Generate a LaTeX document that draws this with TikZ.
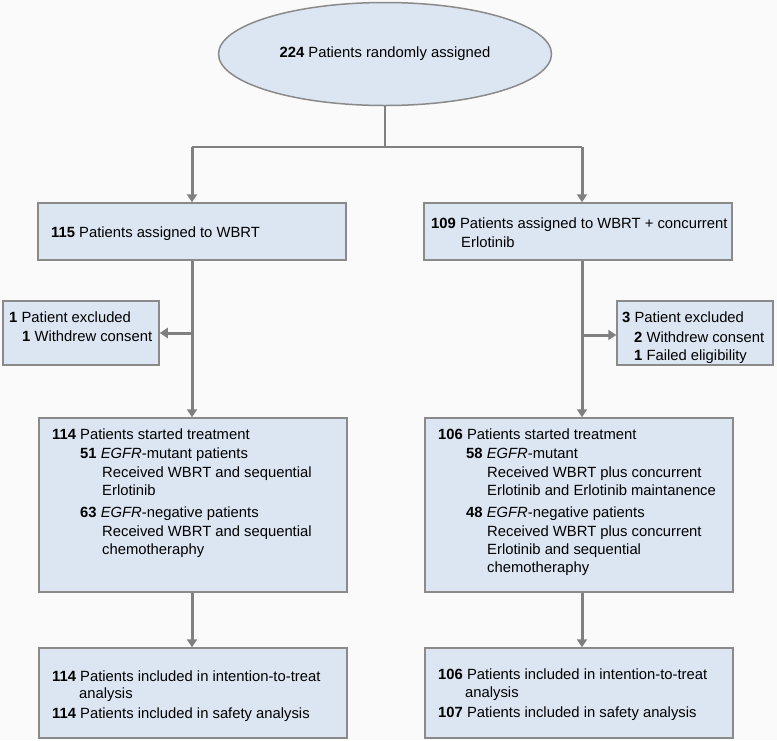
\documentclass[tikz,border=0pt]{standalone}
\usepackage{fontspec}
\setmainfont{Liberation Sans}
\usetikzlibrary{arrows.meta,shapes.geometric}
\definecolor{boxfill}{HTML}{DCE6F2}
\definecolor{boxline}{HTML}{8A8A8A}
\definecolor{arrowc}{HTML}{808080}
\definecolor{bgc}{HTML}{FAFAFA}
\begin{document}
\begin{tikzpicture}[x=1pt,y=-1pt,
  font=\fontsize{14.8}{17.5}\selectfont,
  box/.style={draw=boxline, fill=boxfill, line width=1.5pt, inner sep=0pt},
  txt/.style={anchor=base west, inner sep=0pt},
  thinline/.style={draw=arrowc, line width=1.6pt},
  arr/.style={draw=arrowc, line width=3pt, -{Triangle[length=8pt,width=10pt]}}]
\fill[bgc] (0,0) rectangle (777,740);
\useasboundingbox (0,0) rectangle (777,740);

% top ellipse
\node[ellipse, box, minimum width=333pt, minimum height=103pt] (ell) at (385,54) {\textbf{224} Patients randomly assigned};

% boxes
\node[box, minimum width=308pt, minimum height=57pt] (b1L) at (192,231.5) {};
\node[box, minimum width=308pt, minimum height=57pt] (b1R) at (578,231.5) {};
\node[box, minimum width=156pt, minimum height=64pt] (exL) at (81,333) {};
\node[box, minimum width=156pt, minimum height=64pt] (exR) at (695,333) {};
\node[box, minimum width=308pt, minimum height=174pt] (b2L) at (193,505) {};
\node[box, minimum width=308pt, minimum height=174pt] (b2R) at (579,505) {};
\node[box, minimum width=308pt, minimum height=90pt] (b3L) at (193,693) {};
\node[box, minimum width=308pt, minimum height=90pt] (b3R) at (579,693) {};

% texts
\node[txt] (t1) at (51,237) {\textbf{115} Patients assigned to WBRT};
\node[txt] (t2) at (431,228) {\textbf{109} Patients assigned to WBRT + concurrent};
\node[txt] (t3) at (461,247) {Erlotinib};

\node[txt] (t4) at (9,322) {\textbf{1} Patient excluded};
\node[txt] (t5) at (22,341) {\textbf{1} Withdrew consent};

\node[txt] (t6) at (622,322) {\textbf{3} Patient excluded};
\node[txt] (t7) at (634,342) {\textbf{2} Withdrew consent};
\node[txt] (t8) at (634,360) {\textbf{1} Failed eligibility};

\node[txt] (t9)  at (52,439) {\textbf{114} Patients started treatment};
\node[txt] (t10) at (80,458) {\textbf{51} \textit{EGFR}-mutant patients};
\node[txt] (t11) at (102,477) {Received WBRT and sequential};
\node[txt] (t12) at (102,495) {Erlotinib};
\node[txt] (t13) at (80,517) {\textbf{63} \textit{EGFR}-negative patients};
\node[txt] (t14) at (102,536) {Received WBRT and sequential};
\node[txt] (t15) at (102,554) {chemotheraphy};

\node[txt] (t16) at (438,439) {\textbf{106} Patients started treatment};
\node[txt] (t17) at (466,458) {\textbf{58} \textit{EGFR}-mutant};
\node[txt] (t18) at (487,477) {Received WBRT plus concurrent};
\node[txt] (t19) at (487,495) {Erlotinib and Erlotinib maintanence};
\node[txt] (t20) at (466,517) {\textbf{48} \textit{EGFR}-negative patients};
\node[txt] (t21) at (487,536) {Received WBRT plus concurrent};
\node[txt] (t22) at (487,554) {Erlotinib and sequential};
\node[txt] (t23) at (487,572) {chemotheraphy};

\node[txt] (t24) at (52,681) {\textbf{114} Patients included in intention-to-treat};
\node[txt] (t25) at (79,698.5) {analysis};
\node[txt] (t26) at (52,718.5) {\textbf{114} Patients included in safety analysis};

\node[txt] (t27) at (438,679.5) {\textbf{106} Patients included in intention-to-treat};
\node[txt] (t28) at (465,697) {analysis};
\node[txt] (t29) at (438,717.5) {\textbf{107} Patients included in safety analysis};

% connectors
\coordinate (split) at (385,147);
\coordinate (cL) at (192,147);
\coordinate (cR) at (582,147);
\coordinate (jL) at (192,333);
\coordinate (jR) at (582,335);
\draw[thinline] (ell.south) -- (split);
\draw[thinline] (cL) -- (cR);
\draw[arr] (cL) -- (cL |- b1L.north);
\draw[arr] (cR) -- (cR |- b1R.north);
\draw[arr] (cL |- b1L.south) -- (cL |- b2L.north);
\draw[arr] (cR |- b1R.south) -- (cR |- b2R.north);
\draw[arr] (jL) -- (exL.east |- jL);
\draw[arr] (jR) -- (exR.west |- jR);
\draw[arr] (cL |- b2L.south) -- (cL |- b3L.north);
\draw[arr] (cR |- b2R.south) -- (cR |- b3R.north);
\end{tikzpicture}
\end{document}
